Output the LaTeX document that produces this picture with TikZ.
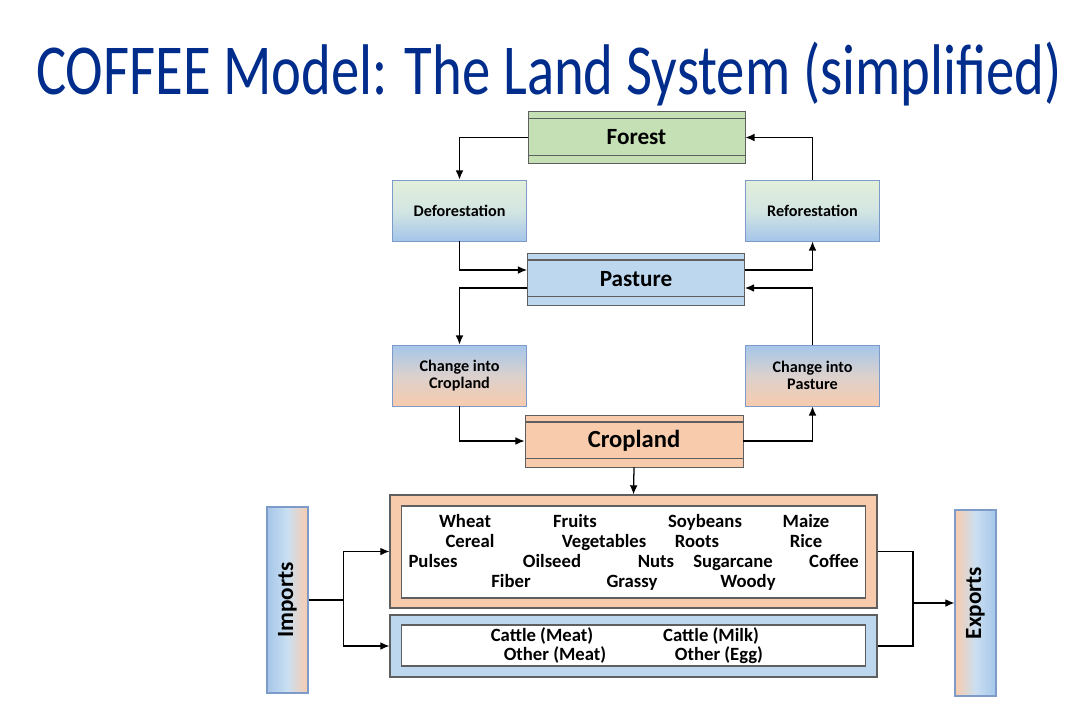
\documentclass[tikz,border=0pt]{standalone}
\usepackage{fontspec}
\setmainfont{Carlito}
\usepackage{tikz}
\usetikzlibrary{shapes,arrows,positioning,calc,arrows.meta}

\definecolor{titleblue}{RGB}{0,45,140}
\definecolor{forestgreen}{RGB}{197,224,180}
\definecolor{greenlt}{RGB}{226,239,218}
\definecolor{pastureblue}{RGB}{189,215,238}
\definecolor{bluedeep}{RGB}{165,198,234}
\definecolor{croppeach}{RGB}{248,203,173}
\definecolor{edgegray}{RGB}{95,95,95}
\definecolor{edgeblue}{RGB}{125,155,200}

\newlength\pxu
\setlength\pxu{0.025cm}

\tikzset{
    landbox/.style={draw=edgegray, line width=0.6pt, minimum width=217\pxu, minimum height=52\pxu,
        font=\fontsize{16.5}{19}\selectfont\bfseries,
        path picture={
            \draw[edgegray, line width=0.8pt] ([yshift=-5pt]path picture bounding box.north west) -- ([yshift=-5pt]path picture bounding box.north east);
            \draw[edgegray, line width=0.8pt] ([yshift=6pt]path picture bounding box.south west) -- ([yshift=6pt]path picture bounding box.south east);
        }},
    changebox/.style={draw=edgeblue, line width=0.6pt, minimum width=134\pxu, minimum height=61\pxu,
        align=center, font=\fontsize{11.5}{11.9}\selectfont\bfseries},
    outerbox/.style={draw=edgegray, line width=0.8pt, minimum width=487\pxu},
    innerbox/.style={draw=edgegray, line width=0.8pt, fill=white, minimum width=464\pxu},
    tradebox/.style={draw=edgeblue, line width=0.8pt, minimum width=41\pxu, minimum height=186\pxu},
    tradetext/.style={rotate=90, font=\fontsize{16.5}{19}\selectfont\bfseries},
    item/.style={font=\fontsize{13.3}{15}\selectfont\bfseries, inner sep=0pt, anchor=base},
    flow/.style={-{Latex[length=6.5pt,width=5.5pt]}, line width=0.9pt},
    link/.style={line width=0.9pt}
}

\begin{document}
\begin{tikzpicture}[x=1\pxu, y=-1\pxu]
    \useasboundingbox (0,0) rectangle (1089,703);

    % Title
    \node[anchor=base, text=titleblue, font=\fontsize{51}{60}\selectfont, inner sep=0pt] (title) at (549,95)
        {\scalebox{0.79}[1]{COFFEE Model: The Land System (simplified)}};

    % Land use boxes
    \node[landbox, fill=forestgreen] (forest) at (636.5,137.5) {Forest};
    \node[landbox, fill=pastureblue] (pasture) at (636,279) {Pasture};
    \node[landbox, fill=croppeach, minimum width=218\pxu, font=\fontsize{17.5}{20}\selectfont\bfseries] (cropland) at (634,441) {Cropland};

    % Transition boxes
    \node[changebox, top color=greenlt, bottom color=bluedeep, middle color=greenlt!60!pastureblue] (defo) at (459.5,210.5) {Deforestation};
    \node[changebox, top color=greenlt, bottom color=bluedeep, middle color=greenlt!60!pastureblue] (refo) at (812.5,210.5) {Reforestation};
    \node[changebox, top color=bluedeep, bottom color=croppeach, middle color=pastureblue!50!croppeach] (tocrop) at (459.5,375.5) {Change into\\Cropland};
    \node[changebox, top color=bluedeep, bottom color=croppeach, middle color=pastureblue!50!croppeach] (topast) at (812.5,375.5) {Change into\\Pasture};

    % Products
    \node[outerbox, fill=croppeach, minimum height=113\pxu] (crops) at (633.5,551.5) {};
    \node[innerbox, minimum height=92\pxu] (cropsin) at (633.7,552) {};
    \node[outerbox, fill=pastureblue, minimum height=62\pxu] (stock) at (633.5,646) {};
    \node[innerbox, minimum height=41\pxu] (stockin) at (633.7,645.5) {};

    \foreach \name/\x/\y in {Wheat/465/527, Fruits/575/527, Soybeans/705/527, Maize/806/527,
        Cereal/470/547, Vegetables/604/547, Roots/697/547, Rice/806/547,
        Pulses/433/567, Oilseed/552/567, Nuts/656/567, Sugarcane/733/567, Coffee/834/567,
        Fiber/511/587, Grassy/632/587, Woody/748/587}
        \node[item] (\name) at (\x,\y) {\name};

    \foreach \id/\x/\y/\txt in {cmeat/542/641/Cattle (Meat), cmilk/711/641/Cattle (Milk),
        omeat/555/660/Other (Meat), oegg/719/660/Other (Egg)}
        \node[item] (\id) at (\x,\y) {\txt};

    % Trade
    \node[tradebox, left color=bluedeep, right color=croppeach, middle color=pastureblue!80!white] (imports) at (287.5,600) {};
    \node[tradetext] (importstxt) at (imports.center) {Imports};
    \node[tradebox, left color=croppeach, right color=bluedeep, middle color=pastureblue!80!white] (exports) at (975.5,603) {};
    \node[tradetext] (exportstxt) at (exports.center) {Exports};

    % Flows between land uses
    \draw[flow] (forest.west) -| (defo.north);
    \draw[flow] (refo.north) |- (forest.east);
    \draw[flow] (defo.south) |- ($(pasture.west)+(0,-9)$);
    \draw[flow] ($(pasture.east)+(0,-9)$) -| (refo.south);
    \draw[flow] ($(pasture.west)+(0,9)$) -| (tocrop.north);
    \draw[flow] (topast.north) |- ($(pasture.east)+(0,9)$);
    \draw[flow] (tocrop.south) |- (cropland.west);
    \draw[flow] (cropland.east) -| (topast.south);
    \draw[flow] (cropland.south) -- (crops.north);

    % Imports and exports
    \coordinate (impjoin) at ($(imports.east)+(35,0)$);
    \draw[link] (imports.east) -- (impjoin);
    \draw[flow] (impjoin) |- (crops.west);
    \draw[flow] (impjoin) |- (stock.west);
    \coordinate (expjoin) at (913,603);
    \draw[link] (crops.east) -| (expjoin);
    \draw[link] (stock.east) -| (expjoin);
    \draw[flow] (expjoin) -- (exports.west);
\end{tikzpicture}
\end{document}
